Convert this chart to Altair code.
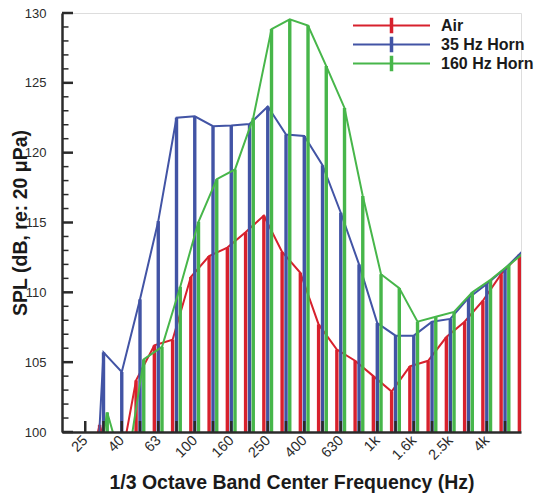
import altair as alt
import pandas as pd

# 1/3-octave band centres (Hz)
bands = ["25", "31.5", "40", "50", "63", "80", "100", "125", "160", "200",
         "250", "315", "400", "500", "630", "800", "1k", "1.25k", "1.6k",
         "2k", "2.5k", "3.15k", "4k", "5k", "6.3k"]

# Band SPL levels, dB re 20 uPa
air = [95.0, 100.5, 96.6, 103.7, 106.2, 106.6, 111.1, 112.6, 113.2, 114.3,
       115.5, 112.9, 111.4, 107.7, 105.9, 105.1, 104.0, 102.9, 104.7,
       105.1, 106.8, 107.9, 109.4, 111.3, 112.7]
horn_35 = [81.0, 105.7, 104.3, 109.5, 115.1, 122.5, 122.6, 121.9, 121.95,
           122.05, 123.3, 121.3, 121.2, 119.1, 115.7, 112.0, 107.8, 106.9,
           106.9, 107.9, 108.1, 109.6, 110.6, 111.7, 113.0]
horn_160 = [94.0, 101.4, 96.8, 105.2, 106.1, 110.4, 115.05, 118.1, 118.8,
            122.5, 128.85, 129.55, 129.1, 126.2, 123.2, 116.9, 111.3, 110.3,
            107.9, 108.25, 108.6, 110.0, 110.9, 111.95, 113.0]

series_names = ["Air", "35 Hz Horn", "160 Hz Horn"]
series_values = [air, horn_35, horn_160]
colors = ["#d7212d", "#4254a5", "#47b64a"]
# side-by-side shift of each series inside a band (in band units)
shifts = [-0.215, 0.0, 0.205]

y_ticks_minor = [v for v in range(100, 131) if v % 5]
y_ticks_major = list(range(100, 131, 5))

rows = []
for name, vals, sh in zip(series_names, series_values, shifts):
    for i, v in enumerate(vals):
        rows.append({"band": bands[i], "idx": i, "series": name,
                     "pos": i + sh, "spl": v})
df = pd.DataFrame(rows)

W, H = 459, 419
FONT = "Liberation Sans"
INK = "#2b2b2b"

x_scale = alt.Scale(domain=[-1.0, 23.6], nice=False, zero=False)
y_scale = alt.Scale(domain=[100, 130], nice=False, zero=False)
label_js = "[" + ",".join("'%s'" % b for b in bands) + "][datum.value]"

x_axis = alt.Axis(
    values=list(range(0, 23, 2)), labelExpr=label_js, ticks=False, tickSize=0,
    grid=False, labelAngle=315, labelAlign="right", labelBaseline="middle",
    labelPadding=6, labelFontSize=14.5, labelFont=FONT, labelColor=INK,
    domainColor=INK, domainWidth=2.5, zindex=2,
    title="1/3 Octave Band Center Frequency (Hz)", titleFont=FONT,
    titleFontSize=19.5, titleFontWeight="bold", titleColor="#1a1a1a",
    titleX=W / 2, titleY=56, titleBaseline="alphabetic", titleAlign="center",
)
y_axis = alt.Axis(
    values=y_ticks_major, ticks=False, tickSize=0, grid=False,
    labelPadding=16, labelFontSize=13, labelFont=FONT, labelColor=INK,
    domainColor=INK, domainWidth=2.5, zindex=2,
    title="SPL (dB, re: 20 \u03bcPa)", titleFont=FONT, titleFontSize=19.5,
    titleFontWeight="bold", titleColor="#1a1a1a", titleAngle=270,
    titleX=-36, titleY=H / 2, titleBaseline="alphabetic", titleAlign="center",
)

color_scale = alt.Scale(domain=series_names, range=colors)
# legend glyph: a line with a short bar across its middle
legend_symbol = ("M-3.85,-0.1H3.85V0.1H-3.85Z"
                 "M-0.175,-0.785H0.175V0.785H-0.175Z")
legend = alt.Legend(
    title=None, orient="none", legendX=319.5, legendY=2.5, padding=0,
    symbolType=legend_symbol, symbolSize=400, symbolStrokeWidth=0,
    labelFont=FONT, labelFontSize=16, labelFontWeight="bold",
    labelColor="#1a1a1a", labelOffset=39.5, rowPadding=1,
)

base = alt.Chart(df)
layers = []
for name, col in zip(series_names, colors):
    sub = base.transform_filter(alt.datum.series == name)
    bars = sub.mark_bar(size=3.4, clip=True).encode(
        x=alt.X("pos:Q", scale=x_scale, axis=x_axis),
        y=alt.Y("spl:Q", scale=y_scale, axis=y_axis),
        y2=alt.datum(100),
        color=alt.Color("series:N", scale=color_scale, legend=legend,
                        sort=series_names),
    )
    line = sub.mark_line(color=col, strokeWidth=2, clip=True).encode(
        x=alt.X("pos:Q", scale=x_scale, axis=x_axis),
        y=alt.Y("spl:Q", scale=y_scale, axis=y_axis),
        order="idx:Q",
    )
    layers += [bars, line]

# inward tick marks on both axes
band_ticks = alt.Chart(pd.DataFrame({"idx": list(range(0, 24))})).mark_rule(
    color=INK, strokeWidth=2.5).encode(
    x=alt.X("idx:Q", scale=x_scale, axis=x_axis),
    y=alt.value(H - 11), y2=alt.value(H))
major_ticks = alt.Chart(pd.DataFrame({"v": y_ticks_major})).mark_rule(
    color=INK, strokeWidth=2.5).encode(
    y=alt.Y("v:Q", scale=y_scale, axis=y_axis),
    x=alt.value(0), x2=alt.value(11))
minor_ticks = alt.Chart(pd.DataFrame({"v": y_ticks_minor})).mark_rule(
    color=INK, strokeWidth=1.5).encode(
    y=alt.Y("v:Q", scale=y_scale, axis=y_axis),
    x=alt.value(0), x2=alt.value(6.5))

chart = alt.layer(*layers, band_ticks, major_ticks, minor_ticks).properties(
    width=W, height=H,
    autosize=alt.AutoSizeParams(type="none"),
    padding={"left": 62, "top": 13, "right": 13, "bottom": 63},
).configure_view(stroke=None).configure(background="white")

chart.save("out.html", embed_options={"renderer": "svg", "actions": False})
